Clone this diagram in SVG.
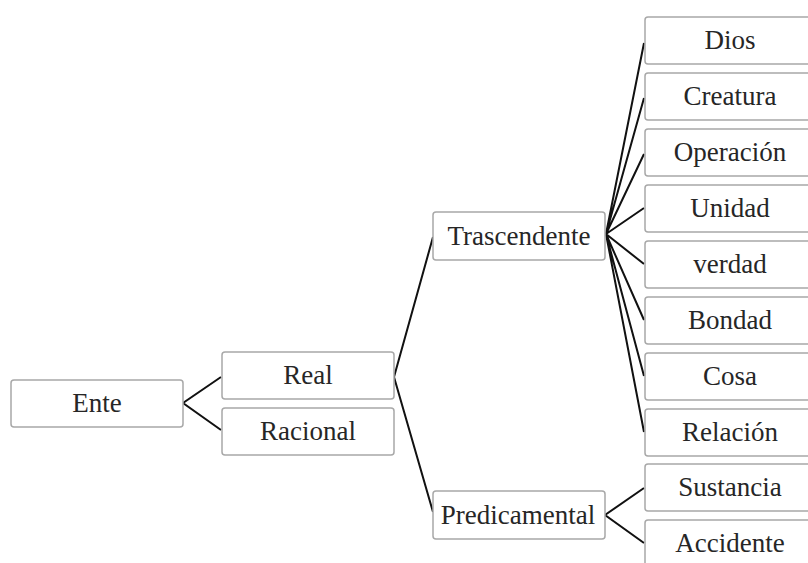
<svg xmlns="http://www.w3.org/2000/svg" width="808" height="563" viewBox="0 0 808 563">
  <style>
    .box { fill: #ffffff; stroke: #a8a8a8; stroke-width: 1.5; }
    .lbl { font-family: "Liberation Serif", "Times New Roman", serif; font-size: 27px; fill: #262626; text-anchor: middle; }
    .link { fill: none; stroke: #111111; stroke-width: 2; stroke-linejoin: miter; }
  </style>
  <rect width="808" height="563" fill="#ffffff"/>

  <!-- connectors -->
  <g id="connectors">
    <polyline class="link" points="221,377 183,403 221,430"/>
    <polyline class="link" points="433,237 394,377 433,512"/>
    <path class="link" d="M606,234 L644,43 M606,234 L644,98 M606,234 L644,154 M606,234 L644,208 M606,234 L644,264 M606,234 L644,320 M606,234 L644,376 M606,234 L644,432"/>
    <polyline class="link" points="644,488 605,515 644,543"/>
  </g>

  <!-- level 0 -->
  <g id="ente"><rect class="box" x="11" y="380" width="172" height="47" rx="3"/><text class="lbl" x="97" y="412">Ente</text></g>

  <!-- level 1 -->
  <g id="real"><rect class="box" x="222" y="352" width="172" height="47" rx="3"/><text class="lbl" x="308" y="384">Real</text></g>
  <g id="racional"><rect class="box" x="222" y="408" width="172" height="47" rx="3"/><text class="lbl" x="308" y="440">Racional</text></g>

  <!-- level 2 -->
  <g id="trascendente"><rect class="box" x="433" y="212" width="172" height="48" rx="3"/><text class="lbl" x="519" y="245">Trascendente</text></g>
  <g id="predicamental"><rect class="box" x="433" y="491" width="172" height="48" rx="3"/><text class="lbl" x="518" y="524">Predicamental</text></g>

  <!-- level 3 -->
  <g id="dios"><rect class="box" x="645" y="17" width="172" height="47" rx="3"/><text class="lbl" x="730" y="49">Dios</text></g>
  <g id="creatura"><rect class="box" x="645" y="73" width="172" height="47" rx="3"/><text class="lbl" x="730" y="105">Creatura</text></g>
  <g id="operacion"><rect class="box" x="645" y="129" width="172" height="47" rx="3"/><text class="lbl" x="730" y="161">Operación</text></g>
  <g id="unidad"><rect class="box" x="645" y="185" width="172" height="47" rx="3"/><text class="lbl" x="730" y="217">Unidad</text></g>
  <g id="verdad"><rect class="box" x="645" y="241" width="172" height="47" rx="3"/><text class="lbl" x="730" y="273">verdad</text></g>
  <g id="bondad"><rect class="box" x="645" y="297" width="172" height="47" rx="3"/><text class="lbl" x="730" y="329">Bondad</text></g>
  <g id="cosa"><rect class="box" x="645" y="353" width="172" height="47" rx="3"/><text class="lbl" x="730" y="385">Cosa</text></g>
  <g id="relacion"><rect class="box" x="645" y="409" width="172" height="47" rx="3"/><text class="lbl" x="730" y="441">Relación</text></g>
  <g id="sustancia"><rect class="box" x="645" y="464" width="172" height="47" rx="3"/><text class="lbl" x="730" y="496">Sustancia</text></g>
  <g id="accidente"><rect class="box" x="645" y="520" width="172" height="47" rx="3"/><text class="lbl" x="730" y="552">Accidente</text></g>
</svg>
